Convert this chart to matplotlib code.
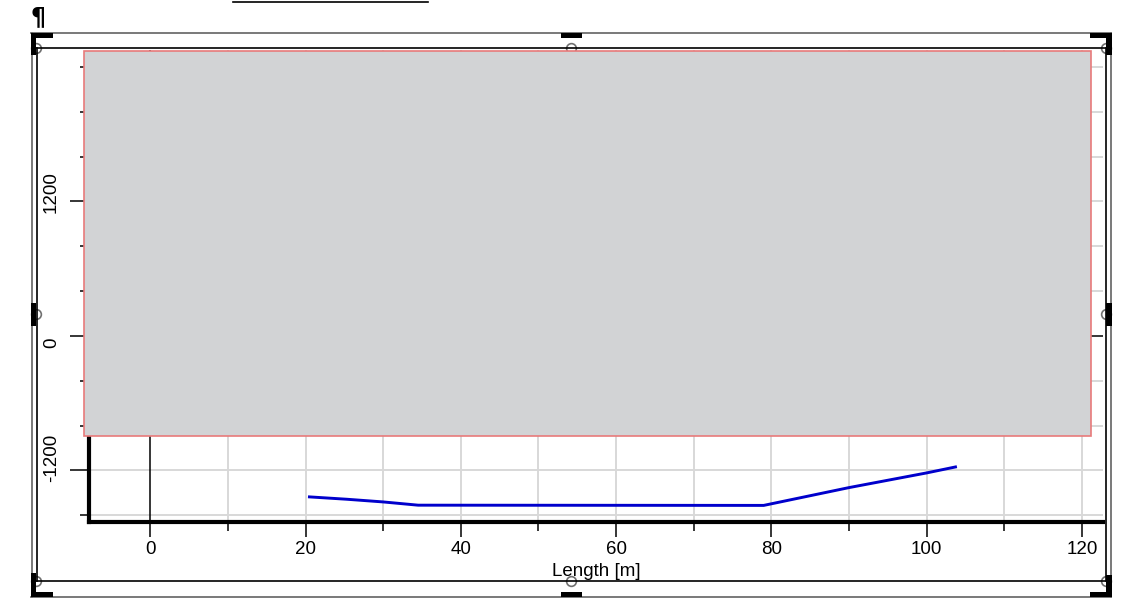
import matplotlib
matplotlib.use("Agg")
import matplotlib.pyplot as plt
from matplotlib import transforms
from matplotlib.patches import Rectangle
from matplotlib.lines import Line2D

plt.rcParams['font.family'] = ['Liberation Sans', 'DejaVu Sans']

# profile line (length along section vs elevation)
length_m = [20.5, 25.3, 30, 34.5, 79, 90, 100, 103.7]
elevation = [-1436, -1457, -1481, -1510, -1512, -1353, -1222, -1169]

# axis ticks
x_major = [0, 20, 40, 60, 80, 100, 120]
x_minor = [10, 30, 50, 70, 90, 110]
y_major = [-1200, 0, 1200]
y_minor = [-1600, -800, -400, 400, 800, 1600, 2000, 2400]
x_label = "Length [m]"

# grey overlay box that hides the upper part of the plot
box_x = (-8.5, 121.2)
box_y = (-895, 2540)

W, H = 1132, 602
fig = plt.figure(figsize=(W / 100, H / 100), dpi=100)
fig.patch.set_facecolor("white")


def fx(px):
    return px / W


def fy(py):
    return 1 - py / H


ax = fig.add_axes([fx(89.3), fy(522), (1103 - 89.3) / W, (522 - 50) / H])
ax.set_facecolor("none")
ax.set_xlim(-7.85, 122.7)
ax.set_ylim(-1660, 2550)

# grid
grid_col = "#d8d8d8"
for v in x_major + x_minor:
    if v != 0:
        ax.axvline(v, color=grid_col, lw=1.4, zorder=1)
for v in y_major + y_minor:
    if v != 0:
        ax.axhline(v, color=grid_col, lw=1.4, zorder=1)
ax.axvline(0, color="black", lw=1.1, zorder=1.5)
ax.axhline(0, color="black", lw=1.1, zorder=1.5)

ax.plot(length_m, elevation, color="#0000cc", lw=2.1, zorder=2)

ax.add_patch(Rectangle((box_x[0], box_y[0]), box_x[1] - box_x[0], box_y[1] - box_y[0],
                       facecolor="#d2d3d5", edgecolor="#e87a7a", lw=1.2,
                       zorder=3, clip_on=False))

for s in ["top", "right"]:
    ax.spines[s].set_visible(False)
for s in ["left", "bottom"]:
    ax.spines[s].set_linewidth(3)
    ax.spines[s].set_zorder(2.5)
ax.spines["left"].set_bounds(-1660, box_y[1] - 50)

ax.set_xticks(x_major)
ax.set_xticks(x_minor, minor=True)
ax.set_yticks(y_major)
ax.set_yticks(y_minor, minor=True)
ax.tick_params(axis="x", which="major", length=10.5, width=1.1, pad=3, labelsize=13.5)
ax.tick_params(axis="x", which="minor", length=6.3, width=1.1)
ax.tick_params(axis="y", which="major", length=14, width=1.1, labelleft=False)
ax.tick_params(axis="y", which="minor", length=6.7, width=1.1)

# rotated y labels, starting a little below each tick
ytrans = transforms.blended_transform_factory(fig.transFigure, ax.transData)
ytrans = ytrans + transforms.ScaledTranslation(0, -12 / 100, fig.dpi_scale_trans)
for v in y_major:
    ax.text(fx(51.5), v, f"{v}", transform=ytrans, rotation=90, rotation_mode="anchor",
            ha="left", va="center", fontsize=13.5, clip_on=False)

ax.set_xlabel(x_label, fontsize=13.5, labelpad=4)

# document frame around the chart object
def hline(x0, x1, y, color, lw, z=5):
    fig.add_artist(Line2D([fx(x0), fx(x1)], [fy(y), fy(y)], color=color, lw=lw, zorder=z))


def vline(x, y0, y1, color, lw, z=5):
    fig.add_artist(Line2D([fx(x), fx(x)], [fy(y0), fy(y1)], color=color, lw=lw, zorder=z))


hline(31, 1111, 33, "#6e6e6e", 1.3)
hline(31, 1111, 597, "#6e6e6e", 1.3)
vline(31.5, 33, 597, "#6e6e6e", 1.3)
vline(1111, 33, 597, "#6e6e6e", 1.3)
hline(36, 1106, 48, "black", 1.2)
hline(36, 1106, 581, "black", 1.2)
vline(36.5, 48, 581, "black", 1.2)
vline(1106, 48, 581, "black", 1.2)


def block(x0, y0, x1, y1):
    fig.add_artist(Rectangle((fx(x0), fy(y1)), fx(x1) - fx(x0), fy(y0) - fy(y1),
                             facecolor="black", edgecolor="none", zorder=6,
                             transform=fig.transFigure))


# corner brackets and side handles
block(31, 33, 53, 38); block(31, 33, 36, 55)
block(1090, 33, 1112, 38); block(1106, 33, 1112, 55)
block(31, 592, 53, 597); block(31, 573, 36, 597)
block(1090, 592, 1112, 597); block(1106, 575, 1112, 597)
block(561, 33, 582, 38); block(561, 592, 582, 597)
block(31, 303, 36, 326); block(1106, 303, 1112, 326)

for cx, cy in [(36, 48), (571, 48), (1106, 48), (36, 314), (1106, 314),
               (36, 581), (571, 581), (1106, 581)]:
    fig.add_artist(Line2D([fx(cx)], [fy(cy)], marker="o", markersize=7,
                          markerfacecolor="white", markeredgecolor="#707070",
                          markeredgewidth=1.2, zorder=-1))

fig.text(fx(31), fy(24), "\u00b6", fontsize=17, fontweight="bold", family="DejaVu Sans",
         ha="left", va="baseline")
hline(233, 428, 2, "black", 1.2)

fig.savefig("out.png", dpi=100)
